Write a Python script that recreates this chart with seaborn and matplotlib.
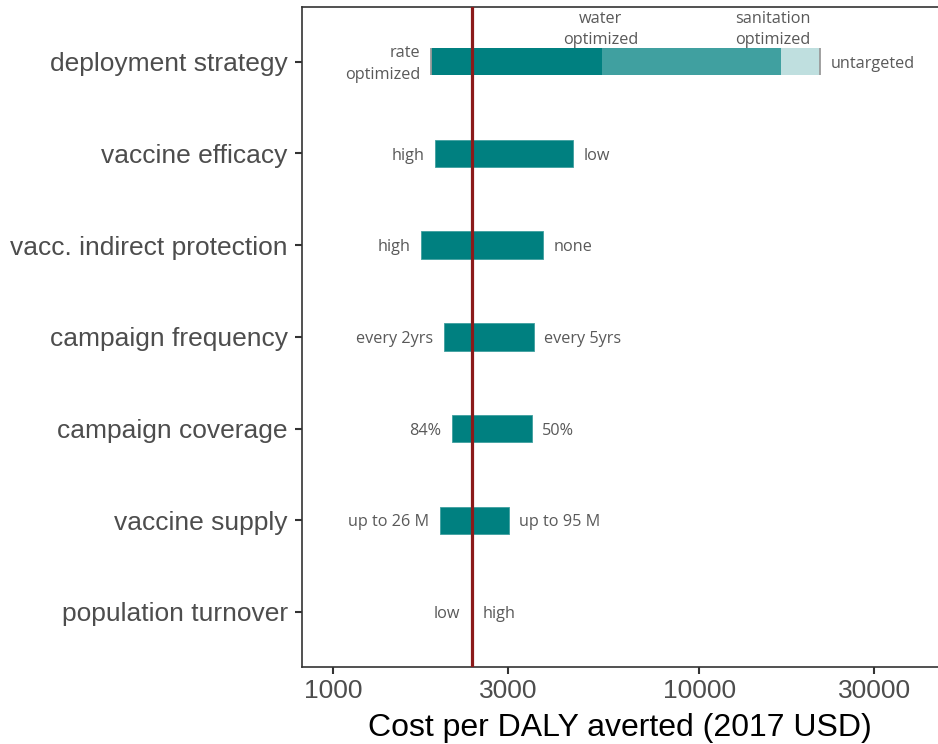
import matplotlib
matplotlib.use("Agg")
import matplotlib.pyplot as plt
import seaborn as sns

# ---------------- data ----------------
categories = ["deployment strategy", "vaccine efficacy", "vacc. indirect protection",
              "campaign frequency", "campaign coverage", "vaccine supply",
              "population turnover"]
low_values = [1850, 1896, 1733, 2002, 2110, 1956, 2375]
high_values = [21400, 4514, 3737, 3533, 3488, 3018, 2400]
low_labels = ["rate\noptimized", "high", "high", "every 2yrs", "84%", "up to 26 M", "low"]
high_labels = ["untargeted", "low", "none", "every 5yrs", "50%", "up to 95 M", "high"]

deploy_names = ["rate\noptimized", "water\noptimized", "sanitation\noptimized", "untargeted"]
deploy_values = [1850, 5410, 16700, 21400]

baseline_cost = 2390
x_ticks = [1000, 3000, 10000, 30000]
x_tick_labels = ["1000", "3000", "10000", "30000"]
x_label = "Cost per DALY averted (2017 USD)"

# ---------------- style ----------------
sns.set_theme(style="ticks")
plt.rcParams['font.family'] = ['Liberation Sans', 'DejaVu Sans']

TEAL = "#008080"
ANN_FONT = ['Open Sans', 'DejaVu Sans']
ANN_COLOR = "#595959"
ANN_SIZE = 11.7

fig = plt.figure(figsize=(9.38, 7.44), dpi=100)
ax = fig.add_axes([0.3216, 0.1035, 0.6784, 0.8875])
ax.set_xscale("log")

bar_h = 0.3
ypos = list(range(len(categories)))

# regular tornado bars (rows 1..)
for i in ypos[1:]:
    lo, hi = low_values[i], high_values[i]
    ax.barh(i, hi - lo, left=lo, height=bar_h, color=TEAL, edgecolor="#3f9f9f",
            linewidth=0.6, zorder=2)

# deployment strategy: stacked segments of decreasing opacity
seg_alphas = [1.0, 0.75, 0.25]
for k in range(3):
    a, b = deploy_values[k], deploy_values[k + 1]
    ax.barh(0, b - a, left=a, height=bar_h, color=TEAL, alpha=seg_alphas[k],
            edgecolor="none", zorder=2)
ax.vlines([deploy_values[0], deploy_values[-1]], -bar_h / 2, bar_h / 2,
          color="#9a9a9a", linewidth=1.3, zorder=3)

# baseline line
ax.axvline(baseline_cost, color="#8B1A1A", linewidth=2.3, zorder=4)

# end labels
for i in ypos:
    ax.annotate(low_labels[i], (low_values[i], i), xytext=(-7.5, -1.5), textcoords="offset points",
                ha="right", va="center", fontsize=ANN_SIZE, color=ANN_COLOR,
                family=ANN_FONT, linespacing=1.45)
    ax.annotate(high_labels[i], (high_values[i], i), xytext=(7.5, -1.5), textcoords="offset points",
                ha="left", va="center", fontsize=ANN_SIZE, color=ANN_COLOR,
                family=ANN_FONT)

# intermediate deployment labels above the bar
for k, dx in zip([1, 2], [-1, -6]):
    ax.annotate(deploy_names[k], (deploy_values[k], -bar_h / 2), xytext=(dx, 0),
                textcoords="offset points", ha="center", va="bottom",
                fontsize=ANN_SIZE, color=ANN_COLOR, family=ANN_FONT, linespacing=1.45)

# axes
ax.set_xlim(820, 44800)
ax.set_ylim(6.6, -0.6)
ax.set_yticks(ypos)
ax.set_yticklabels(categories)
ax.set_xticks(x_ticks)
ax.set_xticklabels(x_tick_labels)
ax.minorticks_off()
ax.tick_params(axis="both", labelsize=19, colors="#333333", labelcolor="#4D4D4D",
               length=5, width=1.5)
ax.tick_params(axis="y", pad=5)
ax.tick_params(axis="x", pad=4)
ax.set_xlabel(x_label, fontsize=23, color="black", labelpad=7)
ax.set_ylabel("")
for s in ["left", "bottom", "top"]:
    ax.spines[s].set_color("#333333")
    ax.spines[s].set_linewidth(1.2)
ax.spines["right"].set_visible(False)
ax.grid(False)

fig.savefig("out.png", dpi=100)
